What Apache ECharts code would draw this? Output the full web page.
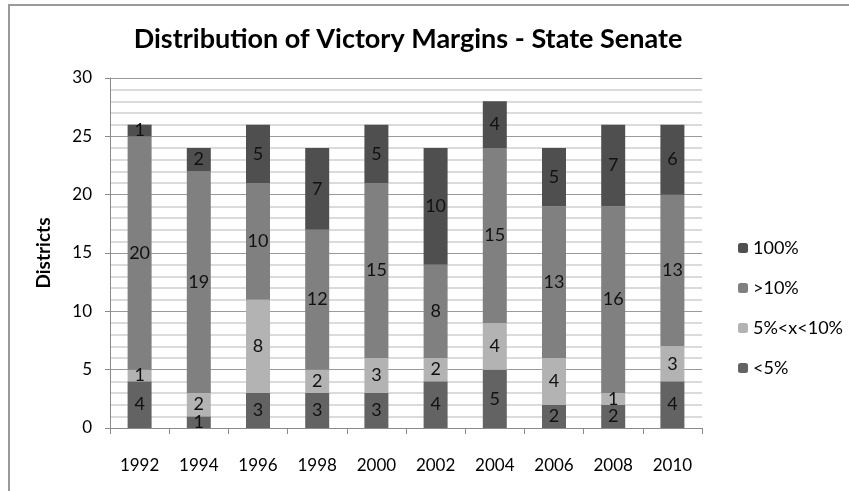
<!DOCTYPE html>
<html>
<head>
<meta charset="utf-8">
<script src="https://cdn.jsdelivr.net/npm/echarts@6/dist/echarts.min.js"></script>
<style>
  html, body { margin: 0; padding: 0; background: #fff; }
  #frame { position: absolute; left: 8px; top: 4px; width: 841px; height: 487px;
           border-left: 2px solid #9a9a9a; border-top: 2px solid #9a9a9a; box-sizing: border-box; }
  #chart { width: 849px; height: 491px; position: absolute; left: 0; top: 0; }
</style>
</head>
<body>
<div id="frame"></div>
<div id="chart"></div>
<script>
const years = ['1992', '1994', '1996', '1998', '2000', '2002', '2004', '2006', '2008', '2010'];
const under5 = [4, 1, 3, 3, 3, 4, 5, 2, 2, 4];
const from5to10 = [1, 2, 8, 2, 3, 2, 4, 4, 1, 3];
const over10 = [20, 19, 10, 12, 15, 8, 15, 13, 16, 13];
const full = [1, 2, 5, 7, 5, 10, 4, 5, 7, 6];

const font = 'Lato, "Open Sans", sans-serif';

const chart = echarts.init(document.getElementById('chart'));

// 把每段做成一个堆叠柱
const makeSeries = (name, data, color) => ({
  name: name,
  type: 'bar',
  stack: 'total',
  barWidth: 24,
  data: data,
  itemStyle: { color: color },
  label: {
    show: true,
    position: 'inside',
    color: '#111',
    fontSize: 18,
    fontFamily: font
  }
});

const option = {
  animation: false,
  title: {
    text: 'Distribution of Victory Margins - State Senate',
    left: 403,
    top: 21,
    textAlign: 'center',
    textStyle: { fontSize: 27, fontWeight: 'bold', color: '#000', fontFamily: font }
  },
  legend: {
    orient: 'vertical',
    left: 733,
    top: 234,
    itemWidth: 10,
    itemHeight: 10,
    itemGap: 22,
    data: ['100%', '>10%', '5%<x<10%', '<5%'],
    textStyle: { fontSize: 18, color: '#000', fontFamily: font }
  },
  grid: { left: 110, right: 147, top: 78, bottom: 63 },
  xAxis: {
    type: 'category',
    data: years,
    axisLine: { lineStyle: { color: '#8a8a8a', width: 1 } },
    axisTick: { show: true, length: 6, lineStyle: { color: '#8a8a8a' } },
    axisLabel: { fontSize: 17, color: '#000', margin: 29, fontFamily: font }
  },
  yAxis: {
    type: 'value',
    min: 0,
    max: 30,
    interval: 5,
    name: 'Districts',
    nameLocation: 'middle',
    nameGap: 57,
    nameTextStyle: { fontSize: 19, fontWeight: 'bold', color: '#000', fontFamily: font },
    axisLine: { show: true, lineStyle: { color: '#8a8a8a' } },
    axisTick: { show: true, length: 5, lineStyle: { color: '#8a8a8a' } },
    axisLabel: { fontSize: 17, color: '#000', margin: 18, fontFamily: font },
    splitLine: { lineStyle: { color: '#9a9a9a', width: 1 } },
    minorTick: { show: false, splitNumber: 5 },
    minorSplitLine: { show: true, lineStyle: { color: '#cfcfcf', width: 1.5 } }
  },
  series: [
    makeSeries('<5%', under5, '#636363'),
    makeSeries('5%<x<10%', from5to10, '#b3b3b3'),
    makeSeries('>10%', over10, '#808080'),
    makeSeries('100%', full, '#4f4f4f')
  ]
};

chart.setOption(option);
</script>
</body>
</html>
